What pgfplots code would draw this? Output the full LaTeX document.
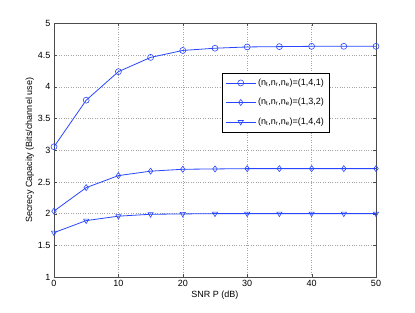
\documentclass[border=0pt]{standalone}
\usepackage{pgfplots}
\pgfplotsset{compat=1.18}
\usepackage{fontspec}
\setmainfont{Liberation Sans}
\definecolor{mblue}{RGB}{40,70,255}
\newcommand{\nlab}[1]{(n\textsubscript{t},n\textsubscript{r},n\textsubscript{e})=(#1)}
\begin{document}
\begin{tikzpicture}
\path[use as bounding box] (-54pt,-36pt) rectangle (361pt,277pt);
\begin{axis}[
  at={(0pt,0pt)}, anchor=south west,
  scale only axis, width=322pt, height=253.5pt,
  xmin=0, xmax=50, ymin=1, ymax=5,
  xtick={0,10,...,50}, ytick={1,1.5,...,5},
  yticklabel style={/pgf/number format/fixed},
  /pgf/number format/assume math mode=true,
  tick label style={font=\fontsize{9}{10}\selectfont},
  label style={font=\fontsize{9}{10}\selectfont},
  xlabel={SNR P (dB)}, ylabel={Secrecy Capacity (Bits/channel use)},
  xlabel style={yshift=3pt}, ylabel style={yshift=-3pt},
  grid=major, grid style={dotted, gray!70},
  axis line style={gray!60!black, line width=0.6pt},
  tick style={gray!60!black}, tick align=inside,
  major tick length=3pt,
  legend style={at={(0.522,0.806)}, anchor=north west, font=\fontsize{9}{10}\selectfont,
    draw=black, line width=0.5pt, inner xsep=3pt, inner ysep=4pt, row sep=7.5pt, cells={anchor=west}},
  legend cell align=left,
  legend image code/.code={\draw[mark repeat=2,mark phase=2,#1] plot coordinates {(0pt,0pt)(15pt,0pt)(30pt,0pt)};},
]
\addplot[mblue, thick, mark=o, mark size=3pt, mark options={line width=0.6pt}] coordinates {
(0,3.055)(5,3.79)(10,4.24)(15,4.465)(20,4.575)(25,4.61)(30,4.63)(35,4.635)(40,4.64)(45,4.64)(50,4.64)};
\addlegendentry{\nlab{1,4,1}}
\addplot[mblue, thick, mark=diamond, mark size=3pt, mark options={line width=0.6pt}] coordinates {
(0,2.04)(5,2.41)(10,2.60)(15,2.67)(20,2.70)(25,2.705)(30,2.71)(35,2.71)(40,2.71)(45,2.71)(50,2.71)};
\addlegendentry{\nlab{1,3,2}}
\addplot[mblue, thick, mark=triangle, mark size=3pt, mark options={line width=0.6pt, rotate=180}] coordinates {
(0,1.70)(5,1.89)(10,1.96)(15,1.99)(20,1.995)(25,2.0)(30,2.0)(35,2.0)(40,2.0)(45,2.0)(50,2.0)};
\addlegendentry{\nlab{1,4,4}}
\end{axis}
\end{tikzpicture}
\end{document}
